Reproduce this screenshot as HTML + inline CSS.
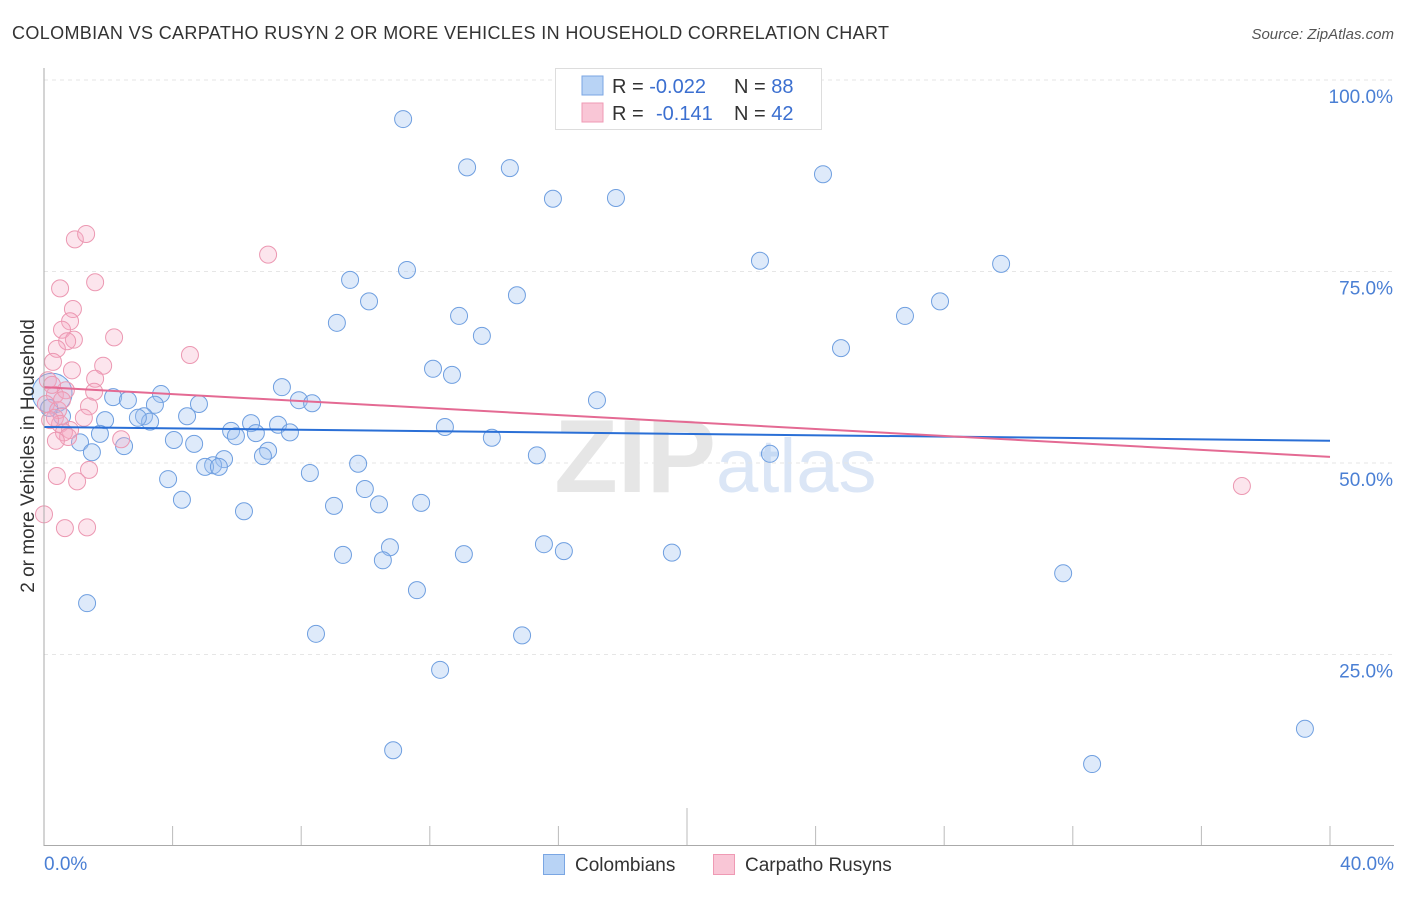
<!DOCTYPE html>
<html><head><meta charset="utf-8"><style>
body{margin:0;background:#fff;font-family:"Liberation Sans",sans-serif;}
svg text{font-family:"Liberation Sans",sans-serif;}
</style></head><body>
<svg id="c" width="1406" height="892">
<text x="12" y="39" font-size="18" fill="#333" textLength="877">COLOMBIAN VS CARPATHO RUSYN 2 OR MORE VEHICLES IN HOUSEHOLD CORRELATION CHART</text>
<text x="1394" y="39" font-size="15" fill="#555" text-anchor="end" font-style="italic">Source: ZipAtlas.com</text>
<text x="716" y="492" font-size="104" fill="#e6e6e6" text-anchor="end" font-family="Liberation Serif" font-weight="bold">ZIP</text>
<text x="716" y="492" font-size="76" fill="#dbe6f6">atlas</text>
<g id="grid"></g><g id="pts"></g><g id="lines"></g>
<line x1="44" y1="68" x2="44" y2="846" stroke="#aaa"/>
<line x1="44" y1="845.5" x2="1394" y2="845.5" stroke="#aaa"/>
<text x="34" y="456" font-size="19" fill="#333" text-anchor="middle" transform="rotate(-90 34 456)">2 or more Vehicles in Household</text>
<text x="44" y="870" font-size="19" fill="#4a7fd4">0.0%</text>
<text x="1394" y="870" font-size="19" fill="#4a7fd4" text-anchor="end">40.0%</text>
<g>
<rect x="555.5" y="68.5" width="266" height="61" fill="#fff" stroke="#ddd"/>
<rect x="582" y="76" width="21" height="19" fill="#b8d3f5" stroke="#7aa6e3"/>
<rect x="582" y="103" width="21" height="19" fill="#f9c6d6" stroke="#ef9ab4"/>
<text x="612" y="93" font-size="20" fill="#333">R = <tspan fill="#3b6fd0">-0.022</tspan><tspan x="734">N = </tspan><tspan fill="#3b6fd0">88</tspan></text>
<text x="612" y="120" font-size="20" fill="#333">R = <tspan x="656" fill="#3b6fd0">-0.141</tspan><tspan x="734">N = </tspan><tspan fill="#3b6fd0">42</tspan></text>
</g>
<g>
<rect x="543.5" y="854.5" width="21" height="20" fill="#b8d3f5" stroke="#7aa6e3"/>
<text x="575" y="871" font-size="19" fill="#333">Colombians</text>
<rect x="713.5" y="854.5" width="21" height="20" fill="#f9c6d6" stroke="#ef9ab4"/>
<text x="745" y="871" font-size="19" fill="#333">Carpatho Rusyns</text>
</g>
</svg>
<script>
const yTicks=[25,50,75,100];
const yTickLabels=["25.0%","50.0%","75.0%","100.0%"];
const xTicks=[4,8,12,16,20,24,28,32,36,40];
const blueX=[0.25,11.17,13.16,14.49,15.83,17.79,24.23,22.27,29.77,11.29,9.52,14.71,10.11,27.87,26.78,12.91,9.11,13.62,24.79,12.10,12.69,7.40,17.20,7.93,8.34,3.64,2.15,2.61,3.45,4.82,4.45,3.11,3.30,2.92,1.90,0.56,0.16,6.44,7.28,5.82,5.97,6.59,7.65,12.47,1.74,1.12,2.49,1.49,4.04,4.67,13.93,15.33,22.58,5.60,5.26,5.01,5.44,6.97,6.81,9.77,8.27,3.86,9.98,4.29,9.02,10.42,11.73,6.22,15.55,10.76,16.17,19.53,9.30,13.06,10.54,11.60,31.70,1.34,8.46,14.87,12.32,10.86,32.60,39.22];
const blueY=[59.1,94.9,88.6,88.5,84.5,84.6,87.7,76.4,76.0,75.2,73.9,71.9,71.1,71.1,69.2,69.2,68.3,66.6,65.0,62.3,61.5,59.9,58.2,58.2,57.8,59.0,58.6,58.2,57.6,57.7,56.1,56.1,55.4,55.9,55.6,56.1,57.2,55.2,55.0,54.2,53.5,53.9,54.0,54.7,53.8,52.7,52.2,51.4,53.0,52.5,53.3,51.0,51.2,50.5,49.7,49.5,49.5,51.6,50.9,49.9,48.7,47.9,46.6,45.2,44.4,44.6,44.8,43.7,39.4,39.0,38.5,38.3,38.0,38.1,37.3,33.4,35.6,31.7,27.7,27.5,23.0,12.5,10.7,15.3];
const pinkX=[0.96,1.31,6.97,1.59,0.50,0.90,0.81,0.56,0.93,0.72,0.40,2.18,4.54,0.28,0.87,1.84,1.59,0.34,0.68,1.56,0.06,1.40,0.44,0.34,0.50,0.81,0.62,2.40,0.75,0.37,1.40,0.40,1.03,0.65,1.34,0.0,37.26,0.19,0.56,0.12,1.24,0.25];
const pinkY=[79.2,79.9,77.2,73.6,72.8,70.1,68.5,67.4,66.1,65.9,64.9,66.4,64.1,63.2,62.1,62.7,61.0,58.9,59.5,59.3,57.7,57.4,56.9,55.9,55.1,54.3,54.0,53.1,53.4,52.9,49.1,48.3,47.6,41.5,41.6,43.3,47.0,55.6,58.2,60.8,55.9,60.2];
const blueTrend=[54.7,52.9];
const pinkTrend=[59.9,50.8];
const X=v=>44+v/40*1286, Y=v=>846-v/100*766;
const NS="http://www.w3.org/2000/svg";
function mk(t,a,p){const e=document.createElementNS(NS,t);for(const k in a)e.setAttribute(k,a[k]);document.getElementById(p).appendChild(e);return e;}
yTicks.forEach((t,i)=>{
 const l=mk('line',{x1:44,x2:1394,y1:Y(t),y2:Y(t),stroke:'#e6e6e6','stroke-dasharray':'4,4'},'grid');
 
 
 const tx=mk('text',{x:1393,y:Y(t)+23,'font-size':19,fill:'#4a7fd4','text-anchor':'end'},'grid');
 tx.textContent=yTickLabels[i];
 
 
});
xTicks.forEach(t=>{
 const l=mk('line',{x1:X(t),x2:X(t),y1:t===20?808:826,y2:846,stroke:'#bbb'},'grid');
 
 
});
blueX.forEach((v,i)=>{
 const c=mk('circle',{cx:X(v),cy:Y(blueY[i]),r:i===0?20:8.5,fill:'rgba(160,195,242,0.35)',stroke:'#6f9fe0','stroke-width':1},'pts');
 
 
});
pinkX.forEach((v,i)=>{
 const c=mk('circle',{cx:X(v),cy:Y(pinkY[i]),r:8.5,fill:'rgba(245,170,195,0.3)',stroke:'#ec98b2','stroke-width':1},'pts');
 
 
});
const bl=mk('line',{x1:X(0),x2:X(40),y1:Y(blueTrend[0]),y2:Y(blueTrend[1]),stroke:'#2a6fd6','stroke-width':2},'lines');


const pl=mk('line',{x1:X(0),x2:X(40),y1:Y(pinkTrend[0]),y2:Y(pinkTrend[1]),stroke:'#e46a93','stroke-width':2},'lines');


</script>
</body></html>
